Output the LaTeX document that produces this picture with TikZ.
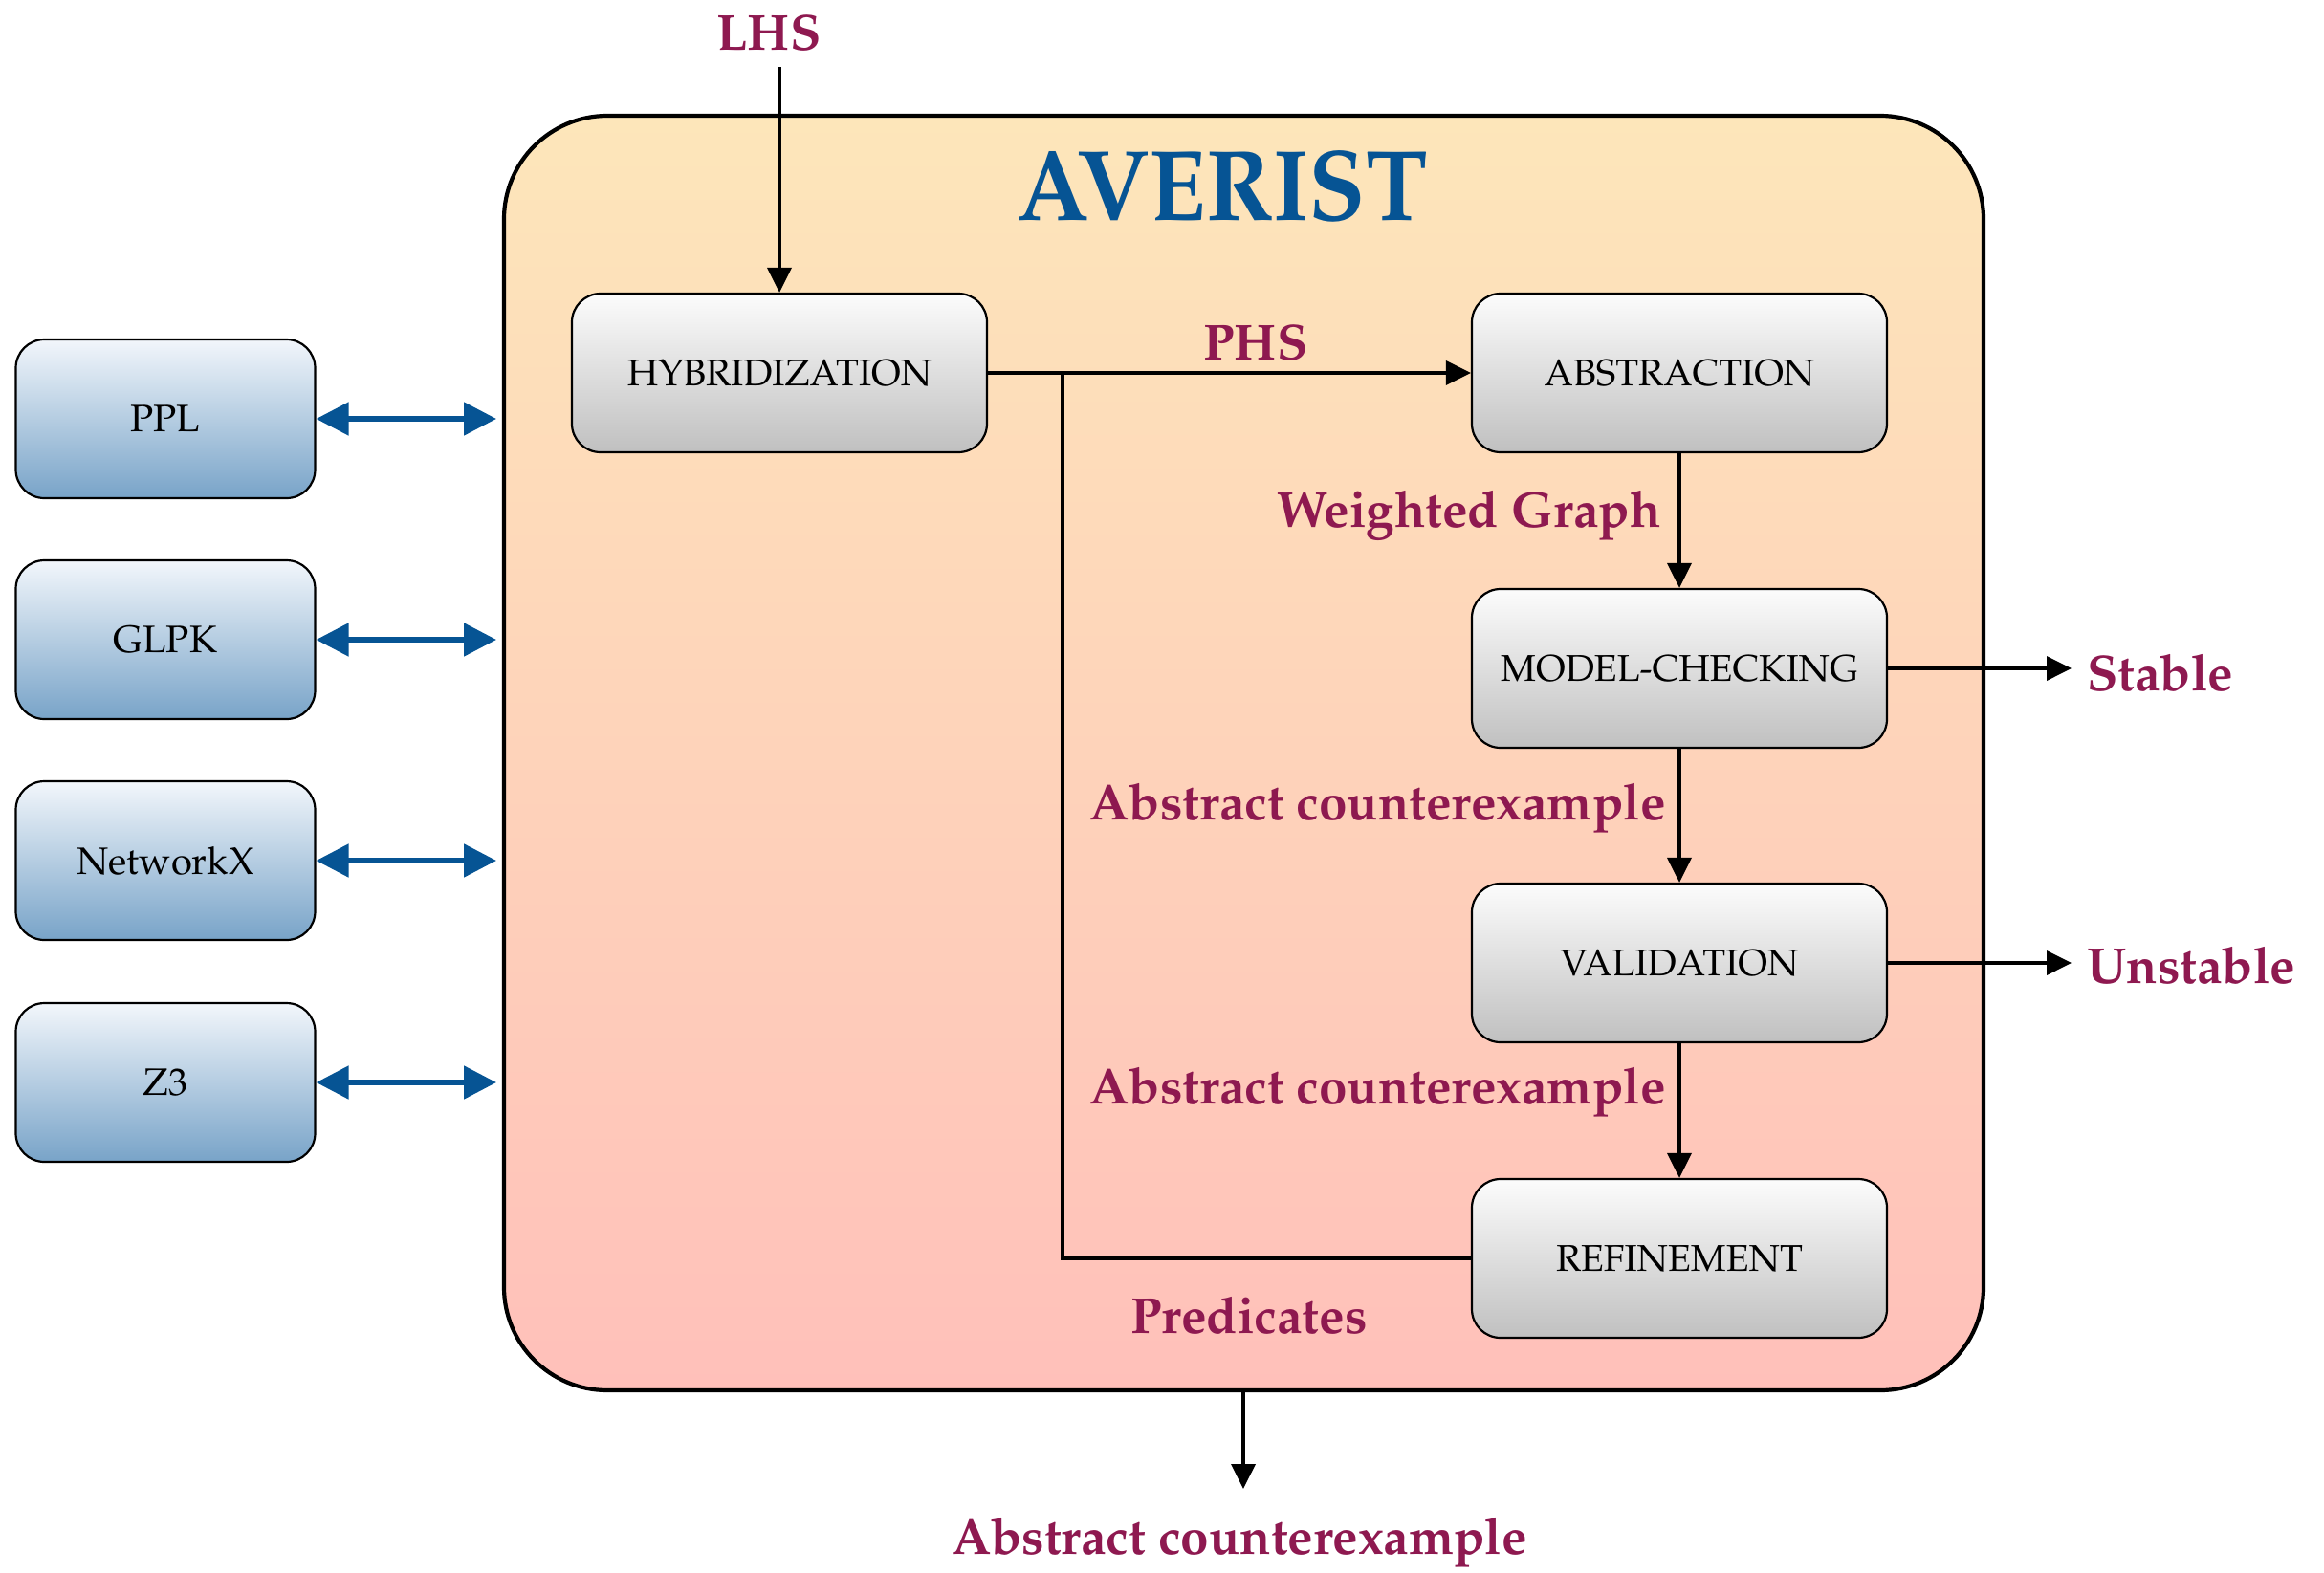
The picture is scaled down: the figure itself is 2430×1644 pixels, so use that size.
\documentclass[tikz,border=0pt]{standalone}
\usepackage[T1]{fontenc}
\usepackage{mathpazo}
\usetikzlibrary{arrows.meta}
\definecolor{lab}{RGB}{142,25,80}
\definecolor{ablue}{RGB}{6,84,148}
\definecolor{maintop}{RGB}{253,230,186}
\definecolor{mainbot}{RGB}{255,192,186}
\definecolor{libtop}{RGB}{242,246,251}
\definecolor{libbot}{RGB}{120,163,200}
\definecolor{proctop}{RGB}{252,252,252}
\definecolor{procbot}{RGB}{192,192,192}
\tikzset{
  mainbox/.style={draw=black, line width=2.1pt, rounded corners=54pt, top color=maintop, bottom color=mainbot, minimum width=773.5pt, minimum height=666.5pt},
  procbox/.style={draw=black, line width=1.1pt, rounded corners=15pt, top color=proctop, bottom color=procbot, minimum width=217pt, minimum height=83pt, font=\fontsize{19.5}{22}\selectfont},
  libbox/.style={draw=black, line width=1.1pt, rounded corners=15pt, top color=libtop, bottom color=libbot, minimum width=156.5pt, minimum height=83pt, font=\fontsize{20}{24}\selectfont},
  lbl/.style={text=lab, font=\fontsize{26.5}{30}\selectfont\bfseries, inner sep=0pt},
  flow/.style={line width=1.8pt, -{Triangle[length=13pt,width=12.5pt]}},
  plain/.style={line width=1.8pt},
  dbl/.style={ablue, line width=2.6pt, {Triangle[length=17pt,width=17pt]}-{Triangle[length=17pt,width=17pt]}}
}
\begin{document}
\begin{tikzpicture}[x=0.5pt,y=-0.5pt]
\useasboundingbox (0,0) rectangle (2430,1644);
\node[mainbox] (main) at (1300.5,787.5) {};
\node[text=ablue, font=\fontsize{50}{56}\selectfont\bfseries, inner sep=0pt] (title) at (1278,194) {\scalebox{0.97}[1.05]{AVERIST}};

\node[procbox] (hyb) at (815,390) {HYBRIDIZATION};
\node[procbox] (abs) at (1756,390) {ABSTRACTION};
\node[procbox] (mc) at (1756,699) {MODEL-CHECKING};
\node[procbox] (val) at (1756,1007) {VALIDATION};
\node[procbox] (ref) at (1756,1316) {REFINEMENT};

\node[libbox] (ppl) at (173,438) {PPL};
\node[libbox] (glpk) at (173,669) {GLPK};
\node[libbox] (nx) at (173,900) {NetworkX};
\node[libbox] (z3) at (173,1132) {Z3};

\coordinate (pplE) at (519,438);
\coordinate (glpkE) at (519,669);
\coordinate (nxE) at (519,900);
\coordinate (z3E) at (519,1132);
\draw[dbl] (ppl.east) -- (pplE);
\draw[dbl] (glpk.east) -- (glpkE);
\draw[dbl] (nx.east) -- (nxE);
\draw[dbl] (z3.east) -- (z3E);

\node[lbl] (lhs) at (804,34) {LHS};
\coordinate (lhsS) at (815,70);
\draw[flow] (lhsS) -- (hyb.north);

\draw[flow] (hyb.east) -- (abs.west);
\node[lbl, anchor=south] (phs) at (1313,378) {PHS};

\draw[flow] (abs.south) -- (mc.north);
\node[lbl, anchor=east] (wg) at (1737,539) {Weighted Graph};

\draw[flow] (mc.south) -- (val.north);
\node[lbl, anchor=east] (ac1) at (1742,845) {Abstract counterexample};

\draw[flow] (val.south) -- (ref.north);
\node[lbl, anchor=east] (ac2) at (1742,1142) {Abstract counterexample};

\coordinate (junc) at (1111,390);
\draw[plain] (ref.west) -| (junc);
\node[lbl] (pred) at (1306,1376) {Predicates};

\node[lbl, anchor=west] (stable) at (2182,704) {Stable};
\node[lbl, anchor=west] (unstable) at (2182,1010) {Unstable};
\draw[flow] (mc.east) -- ([xshift=-8pt]stable.west |- mc.east);
\draw[flow] (val.east) -- ([xshift=-8pt]unstable.west |- val.east);

\coordinate (botS) at (1300,1454);
\coordinate (botE) at (1300,1557);
\draw[flow] (botS) -- (botE);
\node[lbl] (acb) at (1296,1613) {Abstract counterexample};
\end{tikzpicture}
\end{document}
